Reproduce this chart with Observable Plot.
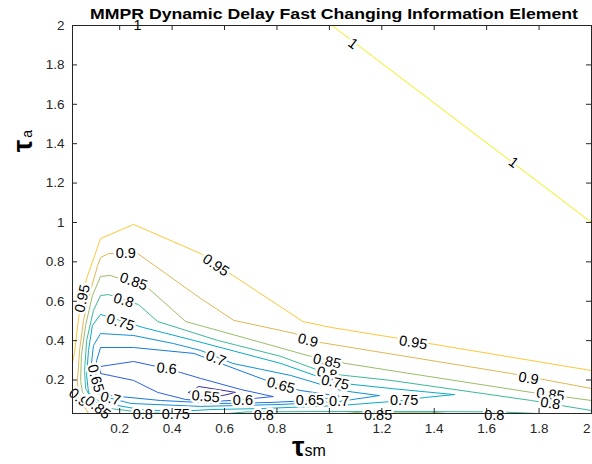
<!DOCTYPE html>
<html>
<head>
<meta charset="utf-8">
<script src="https://cdn.jsdelivr.net/npm/d3@7"></script>
<script src="https://cdn.jsdelivr.net/npm/@observablehq/plot@0.6"></script>
<style>
  html, body { margin: 0; padding: 0; background: #fff; }
  #chart { width: 592px; height: 464px; }
</style>
</head>
<body>
<div id="chart"></div>
<script>
const title = "MMPR Dynamic Delay Fast Changing Information Element";
const levels = [0.55, 0.6, 0.65, 0.7, 0.75, 0.8, 0.85, 0.9, 0.95, 1];
const levelColors = ["#3e2d99", "#2a5fe0", "#1779dc", "#1391d6", "#0aabc4", "#3cb99a", "#9abd6a", "#dfb752", "#fcc737", "#f2f20a"];
const xTicks = [0.2, 0.4, 0.6, 0.8, 1, 1.2, 1.4, 1.6, 1.8, 2];
const yTicks = [0.2, 0.4, 0.6, 0.8, 1, 1.2, 1.4, 1.6, 1.8, 2];

// contour polylines: [x, y]
const c100 = [[0.127,2],[1.01,2],[2,1.0]];
const c095 = [[0.02,0.289],[0.028,0.34],[0.035,0.426],[0.047,0.553],[0.074,0.716],[0.127,0.918],[0.253,0.99],[0.509,0.842],[0.632,0.731],[0.899,0.497],[1.006,0.467],[1.243,0.416],[2,0.248]];
const c090 = [[0.081,0.03],[0.043,0.111],[0.039,0.198],[0.047,0.35],[0.062,0.503],[0.089,0.655],[0.116,0.782],[0.127,0.822],[0.158,0.842],[0.269,0.842],[0.509,0.614],[0.635,0.503],[0.865,0.437],[0.968,0.39],[1.694,0.233],[2,0.157]];
const c085 = [[0.158,0.03],[0.116,0.06],[0.058,0.137],[0.051,0.198],[0.054,0.324],[0.07,0.477],[0.096,0.629],[0.127,0.726],[0.165,0.731],[0.31,0.665],[0.452,0.497],[0.712,0.401],[0.918,0.324],[1.063,0.284],[1.235,0.248],[1.771,0.137],[2,0.096]];
const c085b = [[1.063,0.03],[1.121,0.037],[1.389,0.037],[1.446,0.03]];
const c080 = [[0.376,0.03],[0.288,0.035],[0.165,0.055],[0.096,0.096],[0.07,0.157],[0.066,0.248],[0.074,0.401],[0.1,0.553],[0.127,0.629],[0.158,0.634],[0.272,0.583],[0.345,0.497],[0.574,0.401],[0.815,0.32],[0.991,0.233],[1.235,0.198],[1.771,0.096],[2,0.045]];
const c080b = [[0.616,0.03],[0.681,0.038],[0.968,0.04],[1.35,0.04],[1.656,0.038],[1.79,0.03]];
const c075 = [[1.476,0.126],[1.235,0.157],[1.022,0.187],[0.815,0.284],[0.483,0.401],[0.288,0.467],[0.127,0.533],[0.096,0.477],[0.081,0.35],[0.074,0.223],[0.081,0.137],[0.127,0.086],[0.28,0.05],[0.414,0.04],[0.548,0.05],[0.739,0.055],[1.044,0.071],[1.285,0.096],[1.362,0.111],[1.476,0.126]];
const c070 = [[1.19,0.121],[1.044,0.147],[0.853,0.223],[0.632,0.284],[0.509,0.35],[0.406,0.385],[0.253,0.426],[0.127,0.436],[0.1,0.375],[0.089,0.248],[0.096,0.157],[0.127,0.121],[0.242,0.081],[0.509,0.066],[0.815,0.076],[1.037,0.091],[1.14,0.111],[1.19,0.121]];
const c065 = [[1.048,0.116],[0.888,0.147],[0.815,0.172],[0.739,0.208],[0.483,0.335],[0.253,0.365],[0.127,0.365],[0.112,0.299],[0.108,0.198],[0.119,0.147],[0.165,0.121],[0.356,0.096],[0.586,0.081],[0.777,0.086],[0.926,0.096],[1.048,0.116]];
const c060 = [[0.785,0.116],[0.662,0.152],[0.509,0.208],[0.433,0.238],[0.379,0.258],[0.253,0.294],[0.127,0.269],[0.127,0.233],[0.253,0.198],[0.345,0.137],[0.452,0.101],[0.567,0.091],[0.67,0.101],[0.785,0.116]];
const c055 = [[0.463,0.137],[0.502,0.167],[0.643,0.137],[0.593,0.121],[0.49,0.116],[0.463,0.137]];

// contour labels: [level, x, y, angle]
const labelRows = [
  [1, 0.268, 2.0, 0], [1, 1.09, 1.908, 37], [1, 1.702, 1.304, 37],
  [0.95, 0.058, 0.614, -78], [0.95, 0.567, 0.782, 34], [0.95, 1.32, 0.39, 9],
  [0.9, 0.223, 0.842, 0], [0.9, 0.918, 0.401, 14], [0.9, 1.76, 0.208, 10], [0.9, 0.043, 0.111, 40],
  [0.85, 0.253, 0.7, 19], [0.85, 0.991, 0.294, 12], [0.85, 1.843, 0.126, 8], [0.85, 0.116, 0.06, 38], [0.85, 1.186, 0.02, 0],
  [0.8, 0.215, 0.604, 17], [0.8, 0.991, 0.233, 14], [0.8, 1.843, 0.081, 9], [0.8, 0.288, 0.025, 0], [0.8, 0.75, 0.02, 0], [0.8, 1.629, 0.02, 0],
  [0.75, 0.203, 0.492, 17], [0.75, 1.022, 0.187, 12], [0.75, 1.285, 0.096, 0], [0.75, 0.414, 0.025, 0],
  [0.7, 0.567, 0.309, 22], [0.7, 1.037, 0.091, 0], [0.7, 0.165, 0.106, 15],
  [0.65, 0.108, 0.208, 75], [0.65, 0.815, 0.172, 15], [0.65, 0.926, 0.096, 0],
  [0.6, 0.379, 0.258, 5], [0.6, 0.67, 0.096, 0],
  [0.55, 0.528, 0.116, 5]
];

const contours = [
  [1, c100], [0.95, c095], [0.9, c090], [0.85, c085], [0.85, c085b], [0.8, c080], [0.8, c080b],
  [0.75, c075], [0.7, c070], [0.65, c065], [0.6, c060], [0.55, c055]
];
const lineRows = contours.flatMap(([level, pts], id) => pts.map(([x, y]) => ({id, level, x, y})));
const labels = labelRows.map(([level, x, y, angle]) => ({level, x, y, angle, text: String(level)}));

const W = 592, H = 464, mL = 72, mR = 1, mT = 25, mB = 51;
const plotW = W - mL - mR, plotH = H - mT - mB;
const axisColor = "#262626";
const fmt = d => String(+d.toFixed(1));
const font = "'Liberation Sans', Arial, Helvetica, sans-serif";

const chart = Plot.plot({
  width: W, height: H,
  marginLeft: mL, marginRight: mR, marginTop: mT, marginBottom: mB,
  style: {fontFamily: font, background: "#fff", color: axisColor},
  x: {domain: [0.02, 2]},
  y: {domain: [0.03, 2]},
  color: {type: "ordinal", domain: levels, range: levelColors},
  marks: [
    Plot.line(lineRows, {x: "x", y: "y", z: "id", stroke: "level", strokeWidth: 1, curve: "linear"}),
    Plot.text(labels, {x: "x", y: "y", text: "text", rotate: "angle", fill: "#000", stroke: "#fff", strokeWidth: 5, paintOrder: "stroke", fontSize: 14.5}),
    Plot.frame({stroke: axisColor, strokeWidth: 1}),
    Plot.tickX(xTicks, {x: d => d, insetTop: plotH - 5, stroke: axisColor}),
    Plot.tickX(xTicks, {x: d => d, insetBottom: plotH - 5, stroke: axisColor}),
    Plot.tickY(yTicks, {y: d => d, insetRight: plotW - 5, stroke: axisColor}),
    Plot.tickY(yTicks, {y: d => d, insetLeft: plotW - 5, stroke: axisColor}),
    Plot.axisX(xTicks.slice(0, -1), {tickSize: 0, tickPadding: 10, tickFormat: fmt, fontSize: 13.5, label: null, fill: axisColor}),
    Plot.axisX(xTicks.slice(-1), {tickSize: 0, tickPadding: 10, tickFormat: fmt, fontSize: 13.5, label: null, fill: axisColor, textAnchor: "end", dx: -1}),
    Plot.axisY(yTicks, {tickSize: 0, tickPadding: 8, tickFormat: fmt, fontSize: 13.5, label: null, fill: axisColor})
  ]
});

document.getElementById("chart").appendChild(chart);

const svg = d3.select(chart);
// title, stretched horizontally like the reference
svg.append("text")
  .attr("x", 334).attr("y", 19)
  .attr("text-anchor", "middle")
  .attr("textLength", 488).attr("lengthAdjust", "spacingAndGlyphs")
  .attr("font-size", 14.5).attr("font-weight", "bold")
  .attr("fill", "#000")
  .style("font-family", font)
  .text(title);

// axis titles (τ with a smaller suffix)
const xl = svg.append("text")
  .attr("x", 309).attr("y", 456)
  .attr("text-anchor", "middle")
  .attr("fill", "#000")
  .style("font-family", font);
xl.append("tspan").attr("font-size", 28).attr("font-weight", "bold").text("τ");
xl.append("tspan").attr("font-size", 16).text("sm");

const yl = svg.append("text")
  .attr("transform", "translate(32,141) rotate(-90)")
  .attr("text-anchor", "middle")
  .attr("fill", "#000")
  .style("font-family", font);
yl.append("tspan").attr("font-size", 28).attr("font-weight", "bold").text("τ");
yl.append("tspan").attr("font-size", 14).attr("dx", 2).text("a");
</script>
</body>
</html>
